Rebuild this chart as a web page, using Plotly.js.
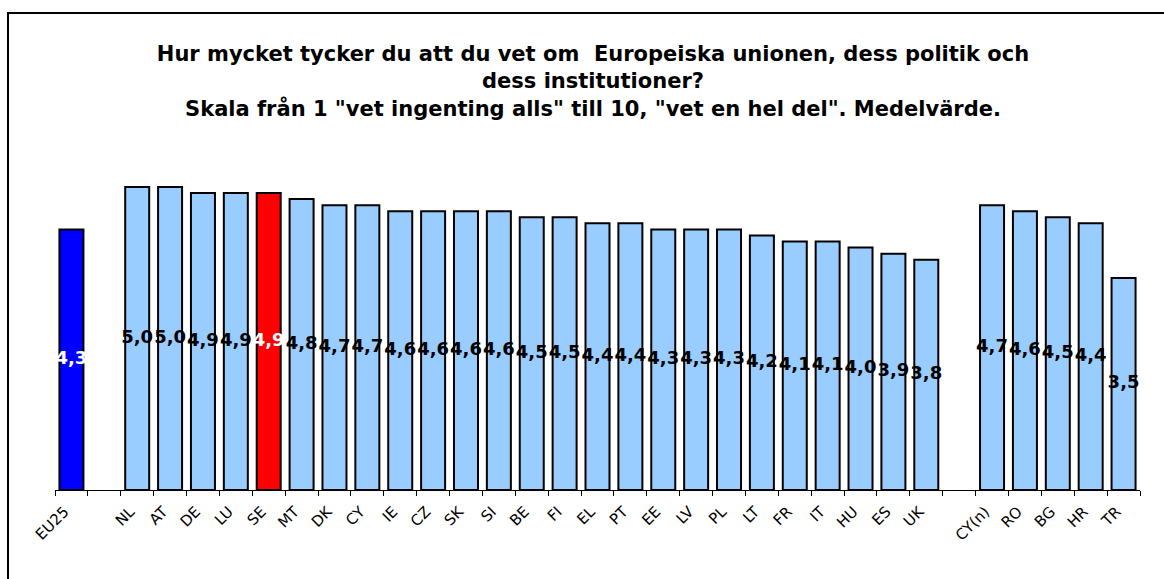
<!DOCTYPE html>
<html>
<head>
<meta charset="utf-8">
<script src="https://cdn.plot.ly/plotly-3.0.1.min.js"></script>
<style>
html,body{margin:0;padding:0;background:#fff;}
#chart{width:1164px;height:579px;}
</style>
</head>
<body>
<div id="chart"></div>
<script>
// Data
const categories = ["EU25"," ","NL","AT","DE","LU","SE","MT","DK","CY","IE","CZ","SK","SI","BE","FI","EL","PT","EE","LV","PL","LT","FR","IT","HU","ES","UK","  ","CY(n)","RO","BG","HR","TR"];
const values = [4.3,null,5.0,5.0,4.9,4.9,4.9,4.8,4.7,4.7,4.6,4.6,4.6,4.6,4.5,4.5,4.4,4.4,4.3,4.3,4.3,4.2,4.1,4.1,4.0,3.9,3.8,null,4.7,4.6,4.5,4.4,3.5];
const titleLines = [
  'Hur mycket tycker du att du vet om  Europeiska unionen, dess politik och',
  'dess institutioner?',
  'Skala från 1 "vet ingenting alls" till 10, "vet en hel del". Medelvärde.'
];

const barColors = categories.map(c => c === "EU25" ? "#0000FF" : (c === "SE" ? "#FF0000" : "#99CCFF"));
const labelColors = categories.map(c => (c === "EU25" || c === "SE") ? "#FFFFFF" : "#000000");
const labelY = values.map(v => v == null ? null : v / 2);

const bars = {
  type: 'bar',
  x: categories,
  y: values,
  marker: {color: barColors, line: {color: '#000000', width: 2}},
  hoverinfo: 'skip'
};
const labels = {
  type: 'scatter',
  mode: 'text',
  x: categories,
  y: labelY,
  customdata: values,
  texttemplate: '%{customdata:.1f}',
  textposition: 'middle center',
  textfont: {family: 'DejaVu Sans', size: 18, color: labelColors, weight: 'bold'},
  hoverinfo: 'skip',
  cliponaxis: false
};

const plotL = 55, plotR = 1140, plotT = 100, plotB = 490;
const W = plotR - plotL, H = plotB - plotT;
const px = x => (x - plotL) / W;
const py = y => (plotB - y) / H;

const layout = {
  width: 1164, height: 579,
  margin: {l: plotL, r: 1164 - plotR, t: plotT, b: 579 - plotB, pad: 0},
  paper_bgcolor: '#ffffff',
  plot_bgcolor: '#ffffff',
  showlegend: false,
  bargap: 0.27,
  separators: ', ',
  font: {family: 'DejaVu Sans', color: '#000000'},
  title: {
    text: '<b>' + titleLines.join('<br>') + '</b>',
    xref: 'container', yref: 'container',
    x: 593 / 1164, xanchor: 'center',
    y: 1 - 61 / 579, yanchor: 'top',
    font: {family: 'DejaVu Sans', size: 21, color: '#000000'}
  },
  xaxis: {
    type: 'category',
    range: [-0.5, categories.length - 0.5],
    showline: true, linecolor: '#000000', linewidth: 1,
    ticks: 'outside', tickson: 'boundaries', ticklen: 5, tickcolor: '#000000',
    tickangle: -45,
    ticklabelshift: -7,
    ticklabelstandoff: 6,
    tickfont: {family: 'DejaVu Sans', size: 15, color: '#000000'},
    showgrid: false, zeroline: false, fixedrange: true
  },
  yaxis: {
    range: [0, H / 60.6],
    visible: false, showgrid: false, zeroline: false, fixedrange: true
  },
  shapes: [{
    type: 'rect', xref: 'paper', yref: 'paper',
    x0: px(8), x1: px(1175), y0: py(13), y1: py(595),
    line: {color: '#000000', width: 2}, fillcolor: 'rgba(0,0,0,0)', layer: 'above'
  }]
};

Plotly.newPlot('chart', [bars, labels], layout, {displayModeBar: false, staticPlot: true});
</script>
</body>
</html>
